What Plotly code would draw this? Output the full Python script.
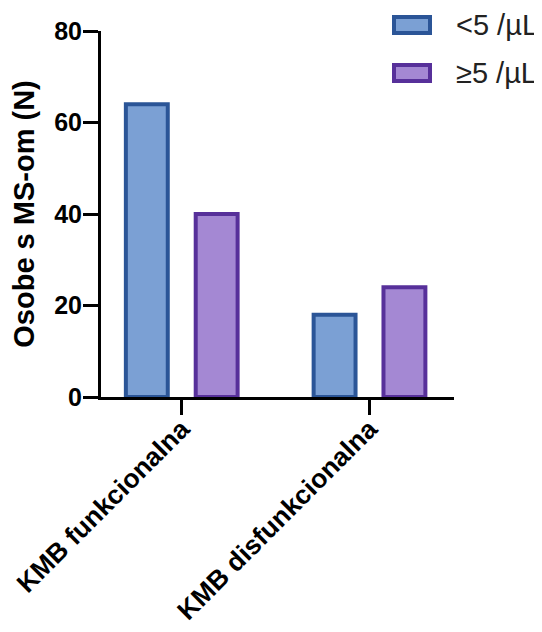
import plotly.graph_objects as go

categories = ["KMB funkcionalna", "KMB disfunkcionalna"]
series_names = ["<5 /µL", "≥5 /µL"]
values_low = [64, 18]
values_high = [40, 24]
y_ticks = [0, 20, 40, 60, 80]

fills = ["#7BA0D4", "#A488D3"]
borders = ["#2B5597", "#57309A"]

PAGE_OFF = 8  # default body margin of the html page
W, H = 542 - PAGE_OFF, 632 - PAGE_OFF
ML, MT = 101 - PAGE_OFF, 31 - PAGE_OFF
MR, MB = 88, 235
PW, PH = W - ML - MR, H - MT - MB

fig = go.Figure()
for name, vals, fc, bc in zip(series_names, [values_low, values_high], fills, borders):
    fig.add_trace(go.Bar(
        x=categories, y=vals, name=name,
        marker=dict(color=fc, line=dict(color=bc, width=4)),
        showlegend=False,
    ))

font_fam = "Liberation Sans, Arial, sans-serif"

fig.update_layout(
    width=W, height=H,
    margin=dict(l=ML, r=MR, t=MT, b=MB, autoexpand=False),
    paper_bgcolor="white", plot_bgcolor="white",
    barmode="group", bargap=0.256, bargroupgap=0.40,
    font=dict(family=font_fam, color="black"),
)
fig.update_xaxes(
    type="category", range=[-0.43, 1.45],
    showline=True, linecolor="black", linewidth=3,
    ticks="outside", ticklen=15, tickwidth=3, tickcolor="black",
    tickangle=-45, ticklabelstandoff=-12,
    tickfont=dict(family=font_fam, size=26.5, weight="bold", color="black"),
    showgrid=False, zeroline=False, automargin=False,
)
fig.update_yaxes(
    range=[0, 80], tickvals=y_ticks,
    showline=True, linecolor="black", linewidth=3,
    ticks="outside", ticklen=15, tickwidth=3, tickcolor="black",
    ticklabelstandoff=-4,
    tickfont=dict(family=font_fam, size=25, weight="bold", color="black"),
    title=dict(text="Osobe s MS-om (N)", standoff=14,
               font=dict(family=font_fam, size=29, weight="bold", color="black")),
    showgrid=False, zeroline=False, automargin=False,
)

# custom legend (larger swatches than plotly's built-in legend allows)
# helpers take page pixel positions
def px_x(p):
    return (p - PAGE_OFF - ML) / PW

def px_y(p):
    return (MT + PH - (p - PAGE_OFF)) / PH

legend_rows = [25, 73]
for name, fc, bc, cy in zip(series_names, fills, borders, legend_rows):
    fig.add_shape(type="rect", xref="paper", yref="paper",
                  x0=px_x(394), x1=px_x(430), y0=px_y(cy - 8), y1=px_y(cy + 8),
                  fillcolor=fc, line=dict(color=bc, width=4))
    fig.add_annotation(x=px_x(454), y=px_y(cy), xref="paper", yref="paper",
                       text=name, showarrow=False, xanchor="left", yanchor="middle",
                       font=dict(family=font_fam, size=29, color="#222"))

fig.write_html("out.html")
